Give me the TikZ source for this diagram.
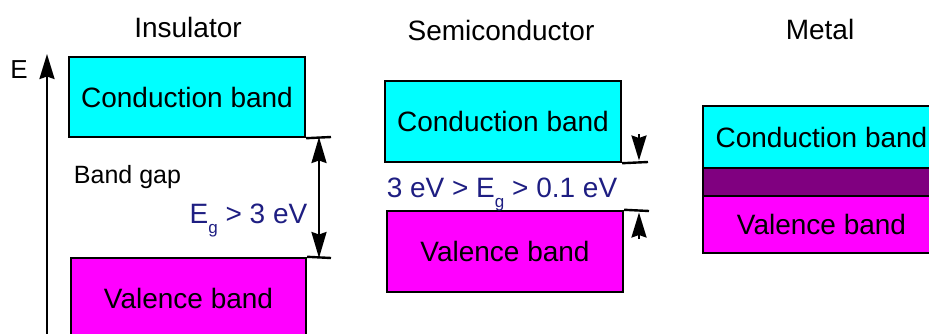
\documentclass[tikz,border=0pt]{standalone}
\usepackage{fontspec}
\setmainfont{Liberation Sans}
\usetikzlibrary{arrows.meta}
\definecolor{bandcyan}{RGB}{0,255,255}
\definecolor{bandmag}{RGB}{255,0,255}
\definecolor{bandpurple}{RGB}{128,0,128}
\definecolor{gapblue}{RGB}{30,30,130}
\newcommand{\EgSym}{E\raisebox{-10pt}{\fontsize{17}{17}\selectfont g}}
\begin{document}
\begin{tikzpicture}[x=1pt,y=1pt,
  band/.style={draw=black, line width=2.4pt, inner sep=0pt, font=\fontsize{28}{32}\selectfont},
  title/.style={anchor=base, font=\fontsize{28}{32}\selectfont},
  gaplabel/.style={anchor=base, text=gapblue, font=\fontsize{28}{32}\selectfont},
  tickline/.style={line width=2.4pt},
  tiparrow/.style={line width=2.4pt, -{Stealth[length=25pt,width=15pt,inset=2.5pt]}},
  dblarrow/.style={line width=2.4pt, {Stealth[length=26pt,width=15pt,inset=2.5pt]}-{Stealth[length=26pt,width=15pt,inset=2.5pt]}},
  ]
\path[use as bounding box] (0,0) rectangle (929,333);
\clip (0,0) rectangle (929,333);

% ---------- Insulator ----------
\node[title] (tins) at (188,296) {Insulator};
\node[band, fill=bandcyan, minimum width=236pt, minimum height=80pt] (ic) at (187,236) {Conduction band};
\node[band, fill=bandmag, minimum width=235pt, minimum height=80pt] (iv) at (188.5,35) {Valence band};

\coordinate (axb) at (47,-5);
\coordinate (axt) at (47,279);
\draw[tiparrow] (axb) -- (axt);
\node[anchor=base, font=\fontsize{26}{30}\selectfont] (elab) at (19,255) {E};

\coordinate (it1) at (331,196);
\coordinate (it2) at (331,75);
\draw[tickline] (ic.south east) -- (it1);
\draw[tickline] (iv.north east) -- (it2);
\coordinate (ia1) at (319,196);
\coordinate (ia2) at (319,75);
\draw[dblarrow] (ia1) -- (ia2);

\node[anchor=base, font=\fontsize{25}{29}\selectfont] (bgap) at (127.5,150) {Band gap};
\node[gaplabel] (ieg) at (248.5,110) {\EgSym{} > 3 eV};

% ---------- Semiconductor ----------
\node[title] (tsemi) at (501,293) {Semiconductor};
\node[band, fill=bandcyan, minimum width=236pt, minimum height=81pt] (sc) at (503,211.5) {Conduction band};
\node[band, fill=bandmag, minimum width=236pt, minimum height=81pt] (sv) at (505,81.5) {Valence band};

\coordinate (st1) at (648,171);
\coordinate (st2) at (649,122);
\draw[tickline] (sc.south east) -- (st1);
\draw[tickline] (sv.north east) -- (st2);

\coordinate (sa1) at (639,199);
\coordinate (sa2) at (639,172.5);
\coordinate (sb1) at (639,94);
\coordinate (sb2) at (639,120.5);
\draw[tiparrow] (sa1) -- (sa2);
\draw[tiparrow] (sb1) -- (sb2);

\node[gaplabel] (seg) at (502,136) {3 eV > \EgSym{} > 0.1 eV};

% ---------- Metal ----------
\node[title] (tmet) at (820,294) {Metal};
\node[band, fill=bandcyan, minimum width=237pt, minimum height=62pt] (mc) at (821.5,196) {Conduction band};
\node[band, fill=bandpurple, minimum width=237pt, minimum height=28pt] (mp) at (821.5,151) {};
\node[band, fill=bandmag, minimum width=237pt, minimum height=57pt] (mv) at (821.5,108.5) {Valence band};
\end{tikzpicture}
\end{document}
